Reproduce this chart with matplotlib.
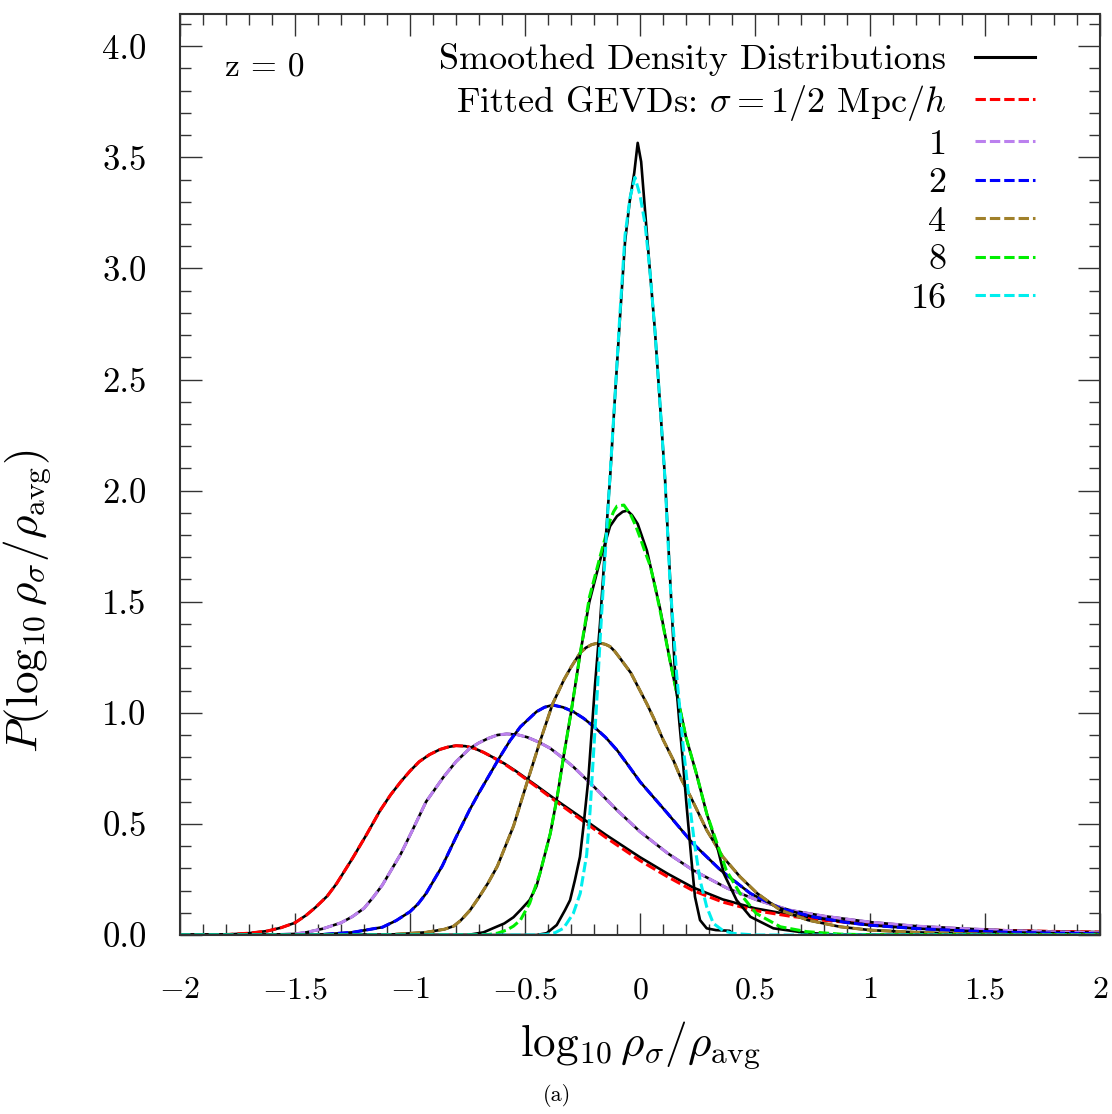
import matplotlib
matplotlib.use("Agg")
import matplotlib.pyplot as plt
from matplotlib.ticker import MultipleLocator
from matplotlib.lines import Line2D

plt.rcParams["font.family"] = "cmr10"
plt.rcParams["mathtext.fontset"] = "cm"
plt.rcParams["axes.unicode_minus"] = False

# sigma = 1/2 Mpc/h
half_x = [-2.0, -1.8, -1.7, -1.62, -1.56, -1.5, -1.45, -1.41, -1.36, -1.32, -1.25, -1.19, -1.13, -1.085,
          -1.04, -1.0, -0.96, -0.915, -0.87, -0.835, -0.80, -0.76, -0.72, -0.68, -0.64, -0.59, -0.54,
          -0.45, -0.36, -0.26, -0.15, 0.0, 0.12, 0.23, 0.36, 0.5, 0.65, 0.8, 1.0, 1.2, 1.4, 1.6, 1.8, 2.0]
half_fit = [0.0, 0.002, 0.008, 0.018, 0.033, 0.055, 0.09, 0.125, 0.175, 0.23, 0.345, 0.45, 0.56, 0.63,
            0.69, 0.738, 0.78, 0.812, 0.835, 0.846, 0.852, 0.85, 0.84, 0.822, 0.80, 0.77, 0.735,
            0.667, 0.597, 0.522, 0.44, 0.335, 0.262, 0.20, 0.148, 0.11, 0.085, 0.066, 0.048, 0.035,
            0.026, 0.02, 0.016, 0.013]
half_den = [0.0, 0.002, 0.008, 0.018, 0.033, 0.055, 0.09, 0.125, 0.175, 0.23, 0.345, 0.45, 0.56, 0.63,
            0.69, 0.738, 0.78, 0.812, 0.835, 0.846, 0.852, 0.85, 0.84, 0.822, 0.80, 0.772, 0.738,
            0.672, 0.604, 0.532, 0.452, 0.35, 0.276, 0.214, 0.16, 0.12, 0.092, 0.07, 0.05, 0.036,
            0.027, 0.02, 0.016, 0.013]

# sigma = 1
one_x = [-2.0, -1.6, -1.5, -1.45, -1.38, -1.30, -1.25, -1.20, -1.16, -1.12, -1.04, -0.99, -0.93, -0.855,
         -0.80, -0.74, -0.70, -0.66, -0.62, -0.58, -0.535, -0.49, -0.44, -0.39, -0.34, -0.29, -0.20,
         -0.10, 0.0, 0.12, 0.23, 0.38, 0.51, 0.65, 0.8, 1.0, 1.2, 1.4, 1.6, 1.8, 2.0]
one_fit = [0.0, 0.001, 0.005, 0.012, 0.028, 0.055, 0.083, 0.12, 0.17, 0.225, 0.365, 0.47, 0.60, 0.71,
           0.78, 0.84, 0.865, 0.885, 0.90, 0.905, 0.902, 0.89, 0.868, 0.84, 0.80, 0.757, 0.667,
           0.562, 0.465, 0.368, 0.292, 0.21, 0.157, 0.112, 0.085, 0.058, 0.04, 0.029, 0.02, 0.014,
           0.01]
one_den = list(one_fit)

# sigma = 2
two_x = [-2.0, -1.4, -1.25, -1.12, -1.06, -1.0, -0.965, -0.93, -0.86, -0.80, -0.74, -0.70, -0.61,
         -0.565, -0.52, -0.45, -0.415, -0.38, -0.335, -0.29, -0.245, -0.20, -0.15, -0.10, -0.05, 0.0,
         0.12, 0.23, 0.35, 0.48, 0.61, 0.75, 0.9, 1.0, 1.2, 1.4, 1.6, 1.8, 2.0]
two_fit = [0.0, 0.001, 0.012, 0.035, 0.065, 0.105, 0.14, 0.187, 0.31, 0.44, 0.565, 0.64, 0.80,
           0.875, 0.937, 1.005, 1.025, 1.035, 1.025, 1.005, 0.975, 0.937, 0.89, 0.832, 0.762, 0.69,
           0.547, 0.412, 0.292, 0.187, 0.12, 0.082, 0.056, 0.044, 0.029, 0.019, 0.012, 0.008, 0.006]
two_den = list(two_fit)

# sigma = 4
four_x = [-2.0, -1.1, -0.93, -0.85, -0.81, -0.78, -0.74, -0.70, -0.66, -0.62, -0.55, -0.49, -0.435,
          -0.38, -0.33, -0.30, -0.26, -0.235, -0.21, -0.19, -0.17, -0.15, -0.13, -0.11, -0.09, -0.04,
          0.0, 0.03, 0.06, 0.10, 0.145, 0.18, 0.22, 0.29, 0.36, 0.435, 0.51, 0.61, 0.73, 0.87, 1.0,
          1.2, 1.4, 1.6, 2.0]
four_fit = [0.0, 0.001, 0.012, 0.026, 0.04, 0.065, 0.11, 0.17, 0.235, 0.31, 0.49, 0.69, 0.87, 1.04,
            1.15, 1.205, 1.27, 1.293, 1.307, 1.312, 1.313, 1.308, 1.298, 1.277, 1.25, 1.18, 1.10,
            1.04, 0.975, 0.88, 0.787, 0.70, 0.622, 0.472, 0.352, 0.262, 0.187, 0.112, 0.067, 0.037,
            0.022, 0.012, 0.006, 0.003, 0.001]
four_den = list(four_fit)

# sigma = 8
eight_x = [-2.0, -0.8, -0.66, -0.62, -0.58, -0.55, -0.52, -0.48, -0.435, -0.39, -0.36, -0.33, -0.30,
           -0.26, -0.22, -0.17, -0.13, -0.115, -0.10, -0.07, -0.04, -0.02, 0.0, 0.02, 0.045, 0.065,
           0.087, 0.13, 0.175, 0.20, 0.245, 0.29, 0.335, 0.375, 0.435, 0.505, 0.61, 0.725, 0.87, 1.0,
           2.0]
eight_fit = [0.0, 0.0, 0.002, 0.008, 0.022, 0.04, 0.067, 0.142, 0.277, 0.457, 0.622, 0.817, 1.0,
             1.267, 1.52, 1.717, 1.867, 1.905, 1.93, 1.935, 1.89, 1.845, 1.79, 1.73, 1.66, 1.57,
             1.462, 1.237, 1.012, 0.89, 0.727, 0.547, 0.412, 0.292, 0.187, 0.097, 0.037, 0.015,
             0.004, 0.001, 0.0]
eight_den_x = [-2.0, -0.75, -0.68, -0.64, -0.59, -0.55, -0.52, -0.48, -0.45, -0.435, -0.39, -0.36,
               -0.33, -0.30, -0.26, -0.22, -0.17, -0.13, -0.10, -0.075, -0.055, -0.035, -0.01, 0.03,
               0.087, 0.13, 0.175, 0.20, 0.245, 0.29, 0.335, 0.365, 0.42, 0.48, 0.58, 0.72, 0.85, 2.0]
eight_den = [0.0, 0.0, 0.012, 0.03, 0.052, 0.08, 0.112, 0.157, 0.22, 0.277, 0.457, 0.622, 0.817, 1.0,
             1.267, 1.50, 1.70, 1.84, 1.885, 1.905, 1.91, 1.89, 1.85, 1.73, 1.47, 1.237, 1.012, 0.89,
             0.727, 0.547, 0.40, 0.275, 0.157, 0.082, 0.03, 0.01, 0.002, 0.0]

# sigma = 16
sixteen_x = [-2.0, -0.45, -0.41, -0.37, -0.333, -0.29, -0.26, -0.232, -0.217, -0.203, -0.188, -0.174,
             -0.152, -0.138, -0.109, -0.087, -0.065, -0.043, -0.022, 0.0, 0.022, 0.043, 0.065, 0.087,
             0.109, 0.13, 0.159, 0.188, 0.217, 0.239, 0.261, 0.29, 0.319, 0.362, 0.406, 0.5, 2.0]
sixteen_fit = [0.0, 0.0, 0.002, 0.01, 0.03, 0.097, 0.187, 0.36, 0.56, 0.80, 1.05, 1.32, 1.70, 1.94,
               2.42, 2.80, 3.15, 3.32, 3.41, 3.33, 3.20, 2.99, 2.72, 2.39, 2.047, 1.597, 1.177, 0.847,
               0.577, 0.397, 0.247, 0.127, 0.052, 0.019, 0.007, 0.0, 0.0]
sixteen_den_x = [-2.0, -0.45, -0.406, -0.362, -0.326, -0.304, -0.283, -0.261, -0.246, -0.225, -0.196,
                 -0.174, -0.152, -0.13, -0.109, -0.087, -0.065, -0.045, -0.025, -0.01, 0.005, 0.025,
                 0.043, 0.065, 0.087, 0.109, 0.13, 0.15, 0.17, 0.185, 0.203, 0.225, 0.239, 0.261, 0.29,
                 0.33, 0.39, 0.40]
sixteen_den = [0.0, 0.0, 0.008, 0.045, 0.112, 0.157, 0.247, 0.352, 0.487, 0.697, 1.12, 1.40, 1.74,
               2.06, 2.42, 2.78, 3.12, 3.30, 3.43, 3.565, 3.48, 3.22, 2.99, 2.72, 2.39, 2.05, 1.62,
               1.22, 0.97, 0.80, 0.577, 0.322, 0.172, 0.067, 0.03, 0.022, 0.019, 0.008]

labels = ["Fitted GEVDs: $\\sigma = 1/2$ Mpc/$h$", "1", "2", "4", "8", "16"]
colors = ["#ff0000", "#bb80ee", "#0000ff", "#a0802a", "#00ee00", "#00eeee"]

xticks = [-2, -1.5, -1, -0.5, 0, 0.5, 1, 1.5, 2]
xtick_labels = ["$-2$", "$-1.5$", "$-1$", "$-0.5$", "$0$", "$0.5$", "$1$", "$1.5$", "$2$"]
yticks = [0.0, 0.5, 1.0, 1.5, 2.0, 2.5, 3.0, 3.5, 4.0]
ytick_labels = ["0.0", "0.5", "1.0", "1.5", "2.0", "2.5", "3.0", "3.5", "4.0"]

curves = [
    (half_x, half_den, half_x, half_fit),
    (one_x, one_den, one_x, one_fit),
    (two_x, two_den, two_x, two_fit),
    (four_x, four_den, four_x, four_fit),
    (eight_den_x, eight_den, eight_x, eight_fit),
    (sixteen_den_x, sixteen_den, sixteen_x, sixteen_fit),
]

fig = plt.figure(figsize=(11.12, 11.14), dpi=100)
ax = fig.add_axes([180 / 1112, 1 - 935 / 1114, 920 / 1112, 921 / 1114])

for (dx, dy, fx, fy), c in zip(curves, colors):
    ax.plot(dx, dy, color="black", lw=1.9, solid_joinstyle="round")
    ax.plot(fx, fy, color=c, lw=2.2, dashes=(3.4, 1.3))

ax.set_xlim(-2, 2)
ax.set_ylim(0, 4.145)

ax.set_xticks(xticks)
ax.set_xticklabels(xtick_labels, fontsize=23)
ax.set_yticks(yticks)
ax.set_yticklabels(ytick_labels, fontsize=25)
ax.xaxis.set_minor_locator(MultipleLocator(0.1))
ax.yaxis.set_minor_locator(MultipleLocator(0.1))
ax.tick_params(which="both", direction="in", top=True, right=True, width=1.0, color="#333333")
ax.tick_params(which="major", length=16)
ax.tick_params(which="minor", length=8)
ax.tick_params(axis="x", which="major", pad=30)
ax.tick_params(axis="y", which="major", pad=24)
for sp in ax.spines.values():
    sp.set_linewidth(1.5)
    sp.set_color("#333333")

ax.set_xlabel(r"$\log_{10}\rho_\sigma/\rho_{\rm avg}$", fontsize=32.5)
ax.xaxis.set_label_coords(0.5, -0.092)
ax.set_ylabel(r"$P(\log_{10}\rho_\sigma/\rho_{\rm avg})$", fontsize=32.5)
ax.yaxis.set_label_coords(-0.138, 0.362)

ax.text(0.049, 0.941, "z = 0", transform=ax.transAxes, fontsize=24, va="center", ha="left")

handles = [Line2D([], [], color="black", lw=2.2)]
for c in colors:
    handles.append(Line2D([], [], color=c, lw=2.2, dashes=(3.4, 1.3)))
leg = ax.legend(handles, ["Smoothed Density Distributions"] + labels,
                loc="upper right", bbox_to_anchor=(0.9293, 0.968), frameon=False,
                markerfirst=False, fontsize=26, handlelength=1.65, handletextpad=0.8,
                labelspacing=0.17, borderpad=0, borderaxespad=0)
for t in leg.get_texts():
    t.set_ha("right")

fig.text(0.501, 0.017, "(a)", fontsize=16, ha="center", va="center")

fig.savefig("out.png", dpi=100)
